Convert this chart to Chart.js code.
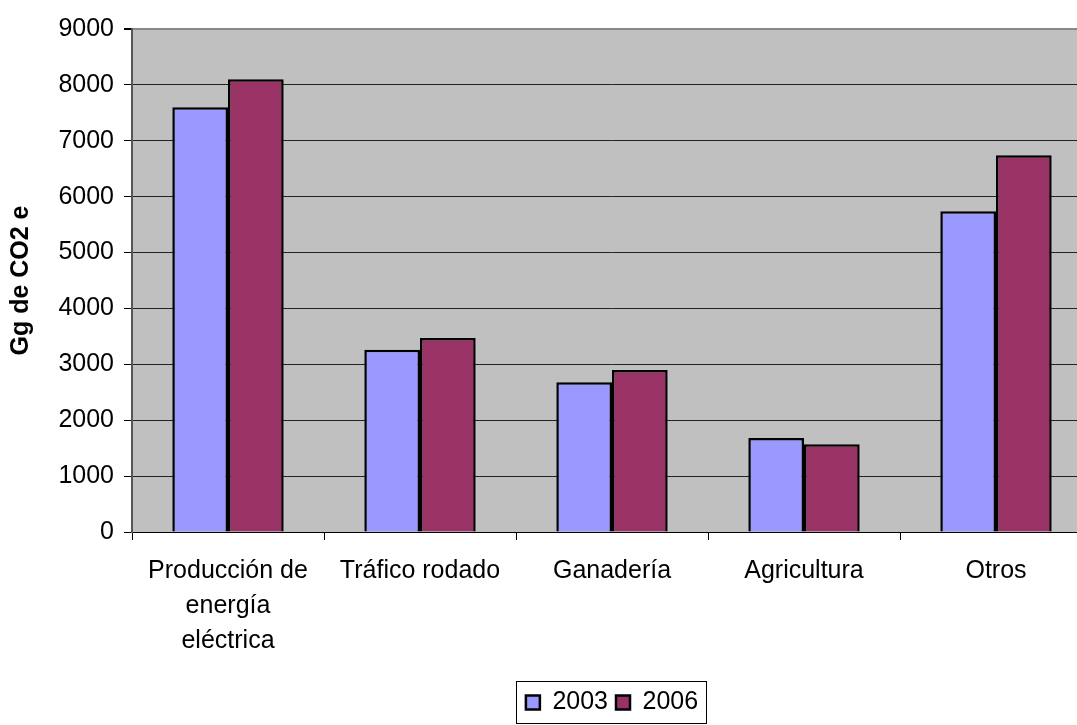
<!DOCTYPE html>
<html>
<head>
<meta charset="utf-8">
<script src="https://cdn.jsdelivr.net/npm/chart.js@4/dist/chart.umd.min.js"></script>
<style>
  html, body { margin: 0; padding: 0; background: #fff; overflow: hidden; }
  #contenedor { width: 1100px; height: 725px; }
</style>
</head>
<body>
<div id="contenedor"><canvas id="myChart" width="1100" height="725"></canvas></div>
<script>
// DATOS
const categorias = [
  ['Producción de', 'energía', 'eléctrica'],
  'Tráfico rodado',
  'Ganadería',
  'Agricultura',
  'Otros'
]
const valores2003 = [7600, 3260, 2680, 1680, 5740]
const valores2006 = [8100, 3470, 2900, 1570, 6740]
const ticksY = [0, 1000, 2000, 3000, 4000, 5000, 6000, 7000, 8000, 9000]

const fuente = "'Liberation Sans', Arial, sans-serif"

// borde alrededor de la leyenda
const bordeLeyenda = {
  id: 'borde_leyenda',
  afterDraw: (chart) => {
    const cajas = chart.legend.legendHitBoxes
    if (!cajas || !cajas.length) return
    const ctx = chart.ctx
    const x1 = cajas[0].left - 10
    const x2 = cajas[cajas.length - 1].left + cajas[cajas.length - 1].width + 8
    const y1 = cajas[0].top - 9
    const y2 = cajas[0].top + cajas[0].height + 8
    ctx.save()
    ctx.strokeStyle = '#000'
    ctx.lineWidth = 1
    ctx.strokeRect(Math.round(x1) + 0.5, Math.round(y1) + 0.5, Math.round(x2 - x1), Math.round(y2 - y1))
    ctx.restore()
  }
}

new Chart(document.getElementById('myChart'), {
  type: 'bar',
  data: {
    labels: categorias,
    datasets: [{
      label: '2003',
      data: valores2003,
      backgroundColor: '#9999ff',
      borderColor: '#000',
      borderWidth: 2.5,
      categoryPercentage: 0.58,
      barPercentage: 1
    }, {
      label: '2006',
      data: valores2006,
      backgroundColor: '#993366',
      borderColor: '#000',
      borderWidth: 2.5,
      categoryPercentage: 0.58,
      barPercentage: 1
    }]
  },
  options: {
    responsive: false,
    animation: false,
    layout: { padding: { top: 29, right: 8, bottom: 0, left: 0 } },
    scales: {
      x: {
        grid: {
          offset: true,
          drawOnChartArea: false,
          drawTicks: true,
          tickLength: 8,
          tickColor: '#000'
        },
        border: { color: '#000', width: 1 },
        ticks: {
          color: '#000',
          padding: 14,
          maxRotation: 0,
          autoSkip: false,
          font: { family: fuente, size: 25, lineHeight: 1.4 }
        },
        afterFit: (scale) => { scale.height = 150 }
      },
      y: {
        min: 0,
        max: 9000,
        afterBuildTicks: (scale) => { scale.ticks = ticksY.map(v => ({ value: v })) },
        grid: {
          color: (c) => c.tick && c.tick.value === 9000 ? '#888' : '#222',
          lineWidth: (c) => c.tick && c.tick.value === 9000 ? 2 : 1,
          tickColor: '#000',
          tickLength: 8
        },
        border: { color: '#555', width: 2 },
        ticks: {
          color: '#000',
          padding: 10,
          callback: (v) => String(v),
          font: { family: fuente, size: 25 }
        },
        title: {
          display: true,
          text: 'Gg de CO2 e',
          color: '#000',
          padding: { top: 6, bottom: 0 },
          font: { family: fuente, size: 25, weight: 'bold' }
        },
        afterFit: (scale) => { scale.width = 132 }
      }
    },
    plugins: {
      legend: {
        position: 'bottom',
        fullSize: false,
        labels: {
          color: '#000',
          boxWidth: 14,
          boxHeight: 14,
          padding: 8,
          font: { family: fuente, size: 25 }
        }
      },
      tooltip: { enabled: false }
    }
  },
  plugins: [{
    id: 'fondo_area',
    beforeDraw: (chart) => {
      const a = chart.chartArea
      const ctx = chart.ctx
      ctx.save()
      ctx.fillStyle = '#fff'
      ctx.fillRect(0, 0, chart.width, chart.height)
      ctx.fillStyle = '#c0c0c0'
      ctx.fillRect(a.left, a.top, a.right - a.left, a.bottom - a.top)
      ctx.restore()
    }
  }, bordeLeyenda]
})
</script>
</body>
</html>
